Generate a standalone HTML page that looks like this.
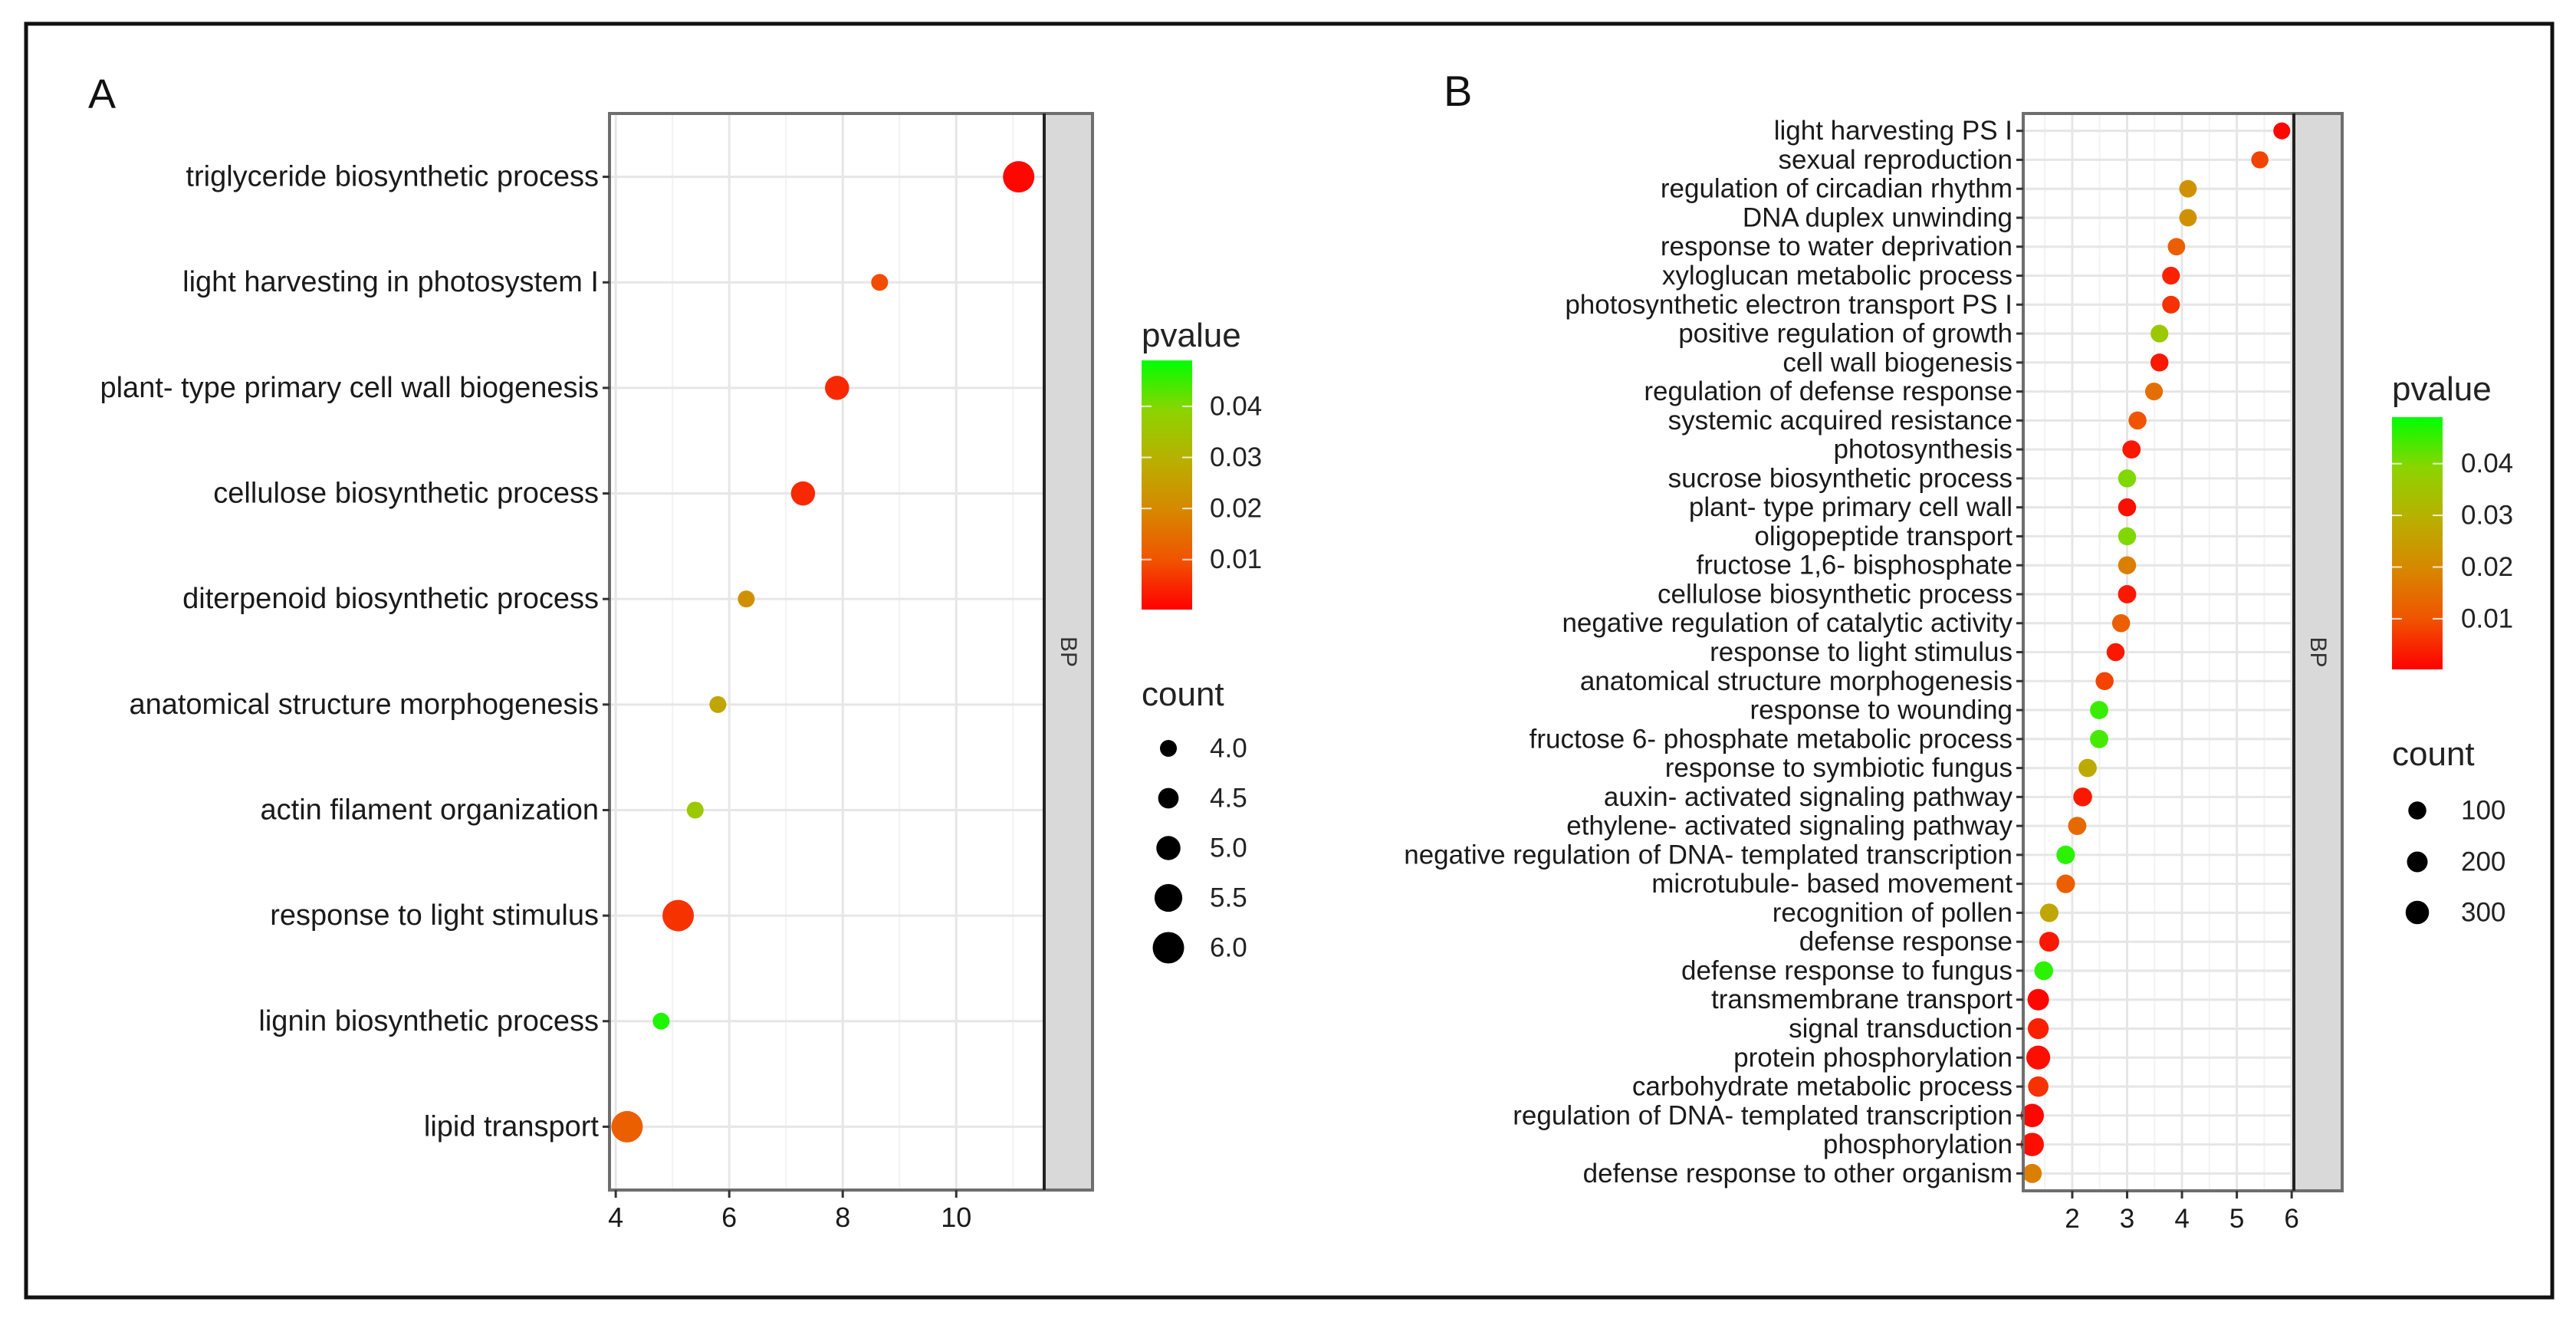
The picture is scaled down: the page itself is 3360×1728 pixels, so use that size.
<!DOCTYPE html>
<html><head><meta charset="utf-8"><style>
html,body{margin:0;padding:0;background:#fff;}
svg{display:block;font-family:"Liberation Sans",Arial,sans-serif;}
</style></head><body>
<svg id="fig" width="3360" height="1728" viewBox="0 0 3360 1728" xmlns="http://www.w3.org/2000/svg">
<rect x="0" y="0" width="3360" height="1728" fill="#fff"/>
<rect x="34" y="31" width="3295" height="1661" fill="none" stroke="#111" stroke-width="5"/>
<text x="115" y="141" font-size="54" fill="#111">A</text>
<text x="1883" y="138" font-size="56" fill="#111">B</text>
<g id="gA"></g>
<g id="gB"></g>
</svg>
<script>
// ---------- Panel A data ----------
const catsA = ["triglyceride biosynthetic process","light harvesting in photosystem I","plant- type primary cell wall biogenesis","cellulose biosynthetic process","diterpenoid biosynthetic process","anatomical structure morphogenesis","actin filament organization","response to light stimulus","lignin biosynthetic process","lipid transport"];
const xA = [11.1, 8.65, 7.9, 7.3, 6.3, 5.8, 5.4, 5.1, 4.8, 4.2];
const countA = [6, 4, 5, 5, 4, 4, 4, 6, 4, 6];
const pA = [0.001, 0.009, 0.005, 0.005, 0.022, 0.027, 0.036, 0.006, 0.047, 0.012];
const ticksA = [4, 6, 8, 10];
const minorA = [5, 7, 9, 11];
const legendCountA = [4.0, 4.5, 5.0, 5.5, 6.0];
const legendCountLabelsA = ["4.0","4.5","5.0","5.5","6.0"];
// ---------- Panel B data ----------
const catsB = ["light harvesting PS I","sexual reproduction","regulation of circadian rhythm","DNA duplex unwinding","response to water deprivation","xyloglucan metabolic process","photosynthetic electron transport PS I","positive regulation of growth","cell wall biogenesis","regulation of defense response","systemic acquired resistance","photosynthesis","sucrose biosynthetic process","plant- type primary cell wall","oligopeptide transport","fructose 1,6- bisphosphate","cellulose biosynthetic process","negative regulation of catalytic activity","response to light stimulus","anatomical structure morphogenesis","response to wounding","fructose 6- phosphate metabolic process","response to symbiotic fungus","auxin- activated signaling pathway","ethylene- activated signaling pathway","negative regulation of DNA- templated transcription","microtubule- based movement","recognition of pollen","defense response","defense response to fungus","transmembrane transport","signal transduction","protein phosphorylation","carbohydrate metabolic process","regulation of DNA- templated transcription","phosphorylation","defense response to other organism"];
const xB = [5.82,5.42,4.11,4.11,3.9,3.8,3.8,3.59,3.59,3.49,3.19,3.08,3.0,3.0,3.0,3.0,3.0,2.89,2.79,2.59,2.49,2.49,2.28,2.19,2.09,1.88,1.88,1.58,1.58,1.48,1.38,1.38,1.38,1.38,1.27,1.27,1.27];
const countB = [60,70,80,80,80,90,90,90,100,90,100,110,100,100,100,100,110,100,100,100,110,110,110,130,110,120,120,120,170,130,230,210,320,190,300,300,140];
const pB = [0.001,0.008,0.022,0.022,0.012,0.004,0.006,0.036,0.003,0.015,0.01,0.003,0.04,0.002,0.04,0.018,0.003,0.012,0.003,0.008,0.045,0.044,0.028,0.003,0.014,0.046,0.012,0.027,0.003,0.046,0.001,0.004,0.002,0.006,0.001,0.002,0.018];
const ticksB = [2, 3, 4, 5, 6];
const minorB = [1.5, 2.5, 3.5, 4.5, 5.5];
const legendCountB = [100, 200, 300];
const legendCountLabelsB = ["100","200","300"];
const pTicks = [0.01, 0.02, 0.03, 0.04];
const pTickLabels = ["0.01","0.02","0.03","0.04"];

const NS = "http://www.w3.org/2000/svg";
function mk(parent, tag, attrs, text){
  const e = document.createElementNS(NS, tag);
  for (const k in attrs) e.setAttribute(k, attrs[k]);
  if (text !== undefined) e.textContent = text;
  parent.appendChild(e);
  return e;
}
const stops = [[0,[255,0,0]],[0.2,[240,84,0]],[0.4,[214,136,0]],[0.6,[184,176,0]],[0.8,[140,212,0]],[1,[0,255,0]]];
const pMin = 0.0002, pMax = 0.049;
function pColor(p){
  let t = Math.max(0, Math.min(1, (p - pMin) / (pMax - pMin)));
  for (let i = 1; i < stops.length; i++){
    if (t <= stops[i][0]){
      const a = stops[i-1], b = stops[i];
      const f = (t - a[0]) / (b[0] - a[0]);
      const c = a[1].map((v, j) => Math.round(v + (b[1][j] - v) * f));
      return "rgb(" + c.join(",") + ")";
    }
  }
  return "rgb(0,255,0)";
}

function panel(g, cfg){
  const {cats, xs, counts, ps, ticks, minor, L, R, T, B, dMin, dMax, stripW, labelFs, tickFs, sizeFn, gid} = cfg;
  const xS = v => L + (v - dMin) / (dMax - dMin) * (R - L);
  const n = cats.length;
  const step = (B - T) / (n - 1 + 1.2);
  const yS = i => T + (i + 0.6) * step;
  mk(g, "rect", {x: L, y: T, width: R - L, height: B - T, fill: "#fff"});
  minor.forEach(v => {
    const l = mk(g, "line", {x1: xS(v), x2: xS(v), y1: T, y2: B, stroke: "#f2f2f2", "stroke-width": 2});
    
    
  });
  ticks.forEach(v => {
    const l = mk(g, "line", {x1: xS(v), x2: xS(v), y1: T, y2: B, stroke: "#e6e6e6", "stroke-width": 3});
    
    
  });
  cats.forEach((c, i) => {
    const l = mk(g, "line", {x1: L, x2: R, y1: yS(i), y2: yS(i), stroke: "#e6e6e6", "stroke-width": 3});
    
    
  });
  cats.forEach((c, i) => {
    const d = sizeFn(counts[i]);
    const pt = mk(g, "circle", {cx: xS(xs[i]), cy: yS(i), r: d / 2, fill: pColor(ps[i])});
    
    
  });
  const pb = mk(g, "rect", {x: L, y: T, width: R - L, height: B - T, fill: "none", stroke: "#6e6e6e", "stroke-width": 4});
  
  
  const st = mk(g, "rect", {x: R, y: T, width: stripW, height: B - T, fill: "#d9d9d9", stroke: "#6e6e6e", "stroke-width": 4});
  
  
  mk(g, "line", {x1: R, x2: R, y1: T, y2: B, stroke: "#222", "stroke-width": 4});
  const cx = R + stripW / 2, cy = (T + B) / 2;
  const stx = mk(g, "text", {x: cx, y: cy, "font-size": 30, fill: "#333", "text-anchor": "middle", "dominant-baseline": "central", transform: "rotate(90 " + cx + " " + cy + ")"}, "BP");
  
  
  cats.forEach((c, i) => {
    mk(g, "line", {x1: L - 9, x2: L, y1: yS(i), y2: yS(i), stroke: "#333", "stroke-width": 3});
    const t = mk(g, "text", {x: L - 14, y: yS(i), "font-size": labelFs, fill: "#1a1a1a", "text-anchor": "end", "dominant-baseline": "central"}, c);
    
    
  });
  ticks.forEach(v => {
    mk(g, "line", {x1: xS(v), x2: xS(v), y1: B, y2: B + 10, stroke: "#333", "stroke-width": 3});
    const t = mk(g, "text", {x: xS(v), y: B + 48, "font-size": tickFs, fill: "#1a1a1a", "text-anchor": "middle"}, String(v));
    
    
  });
}

function legend(g, cfg){
  const {lx, titleY, barTop, barBot, labelX, countTitleY, entryYs, entryVals, entryLabels, dotX, sizeFn, fs} = cfg;
  const t1 = mk(g, "text", {x: lx, y: titleY, "font-size": 44, fill: "#222"}, "pvalue");
  
  
  const gradId = "grad" + lx;
  const defs = mk(g, "defs", {});
  const lg = mk(defs, "linearGradient", {id: gradId, x1: 0, y1: 1, x2: 0, y2: 0});
  stops.forEach(s => mk(lg, "stop", {offset: s[0], "stop-color": "rgb(" + s[1].join(",") + ")"}));
  const bar = mk(g, "rect", {x: lx, y: barTop, width: 66, height: barBot - barTop, fill: "url(#" + gradId + ")"});
  
  
  const pY = p => barBot - (p - pMin) / (pMax - pMin) * (barBot - barTop);
  pTicks.forEach((p, i) => {
    mk(g, "line", {x1: lx, x2: lx + 13, y1: pY(p), y2: pY(p), stroke: "#fff", "stroke-width": 2, opacity: 0.8});
    mk(g, "line", {x1: lx + 53, x2: lx + 66, y1: pY(p), y2: pY(p), stroke: "#fff", "stroke-width": 2, opacity: 0.8});
    const t = mk(g, "text", {x: labelX, y: pY(p), "font-size": fs, fill: "#222", "dominant-baseline": "central"}, pTickLabels[i]);
    
    
  });
  const t2 = mk(g, "text", {x: lx, y: countTitleY, "font-size": 44, fill: "#222"}, "count");
  
  
  entryVals.forEach((v, i) => {
    const c = mk(g, "circle", {cx: dotX, cy: entryYs[i], r: sizeFn(v) / 2, fill: "#000"});
    
    
    const t = mk(g, "text", {x: labelX, y: entryYs[i], "font-size": fs, fill: "#222", "dominant-baseline": "central"}, entryLabels[i]);
    
    
  });
}

const sizeA = c => 22 + (c - 4) * 9.5;
const sizeB = c => 20 + c * 0.035;

panel(document.getElementById("gA"), {cats: catsA, xs: xA, counts: countA, ps: pA, ticks: ticksA, minor: minorA,
  L: 795, R: 1362, T: 148, B: 1552, dMin: 3.89, dMax: 11.55, stripW: 63, labelFs: 38, tickFs: 36, sizeFn: sizeA, gid: "a"});
panel(document.getElementById("gB"), {cats: catsB, xs: xB, counts: countB, ps: pB, ticks: ticksB, minor: minorB,
  L: 2639, R: 2992, T: 148, B: 1553, dMin: 1.106, dMax: 6.04, stripW: 63, labelFs: 35, tickFs: 35, sizeFn: sizeB, gid: "b"});

legend(document.getElementById("gA"), {lx: 1489, titleY: 452, barTop: 470, barBot: 795, labelX: 1578,
  countTitleY: 920, entryYs: [976, 1041, 1106, 1171, 1236], entryVals: legendCountA, entryLabels: legendCountLabelsA, dotX: 1524, sizeFn: sizeA, fs: 35});
legend(document.getElementById("gB"), {lx: 3120, titleY: 522, barTop: 544, barBot: 873, labelX: 3210,
  countTitleY: 998, entryYs: [1057, 1124, 1190], entryVals: legendCountB, entryLabels: legendCountLabelsB, dotX: 3153, sizeFn: sizeB, fs: 35});
</script>
</body></html>
